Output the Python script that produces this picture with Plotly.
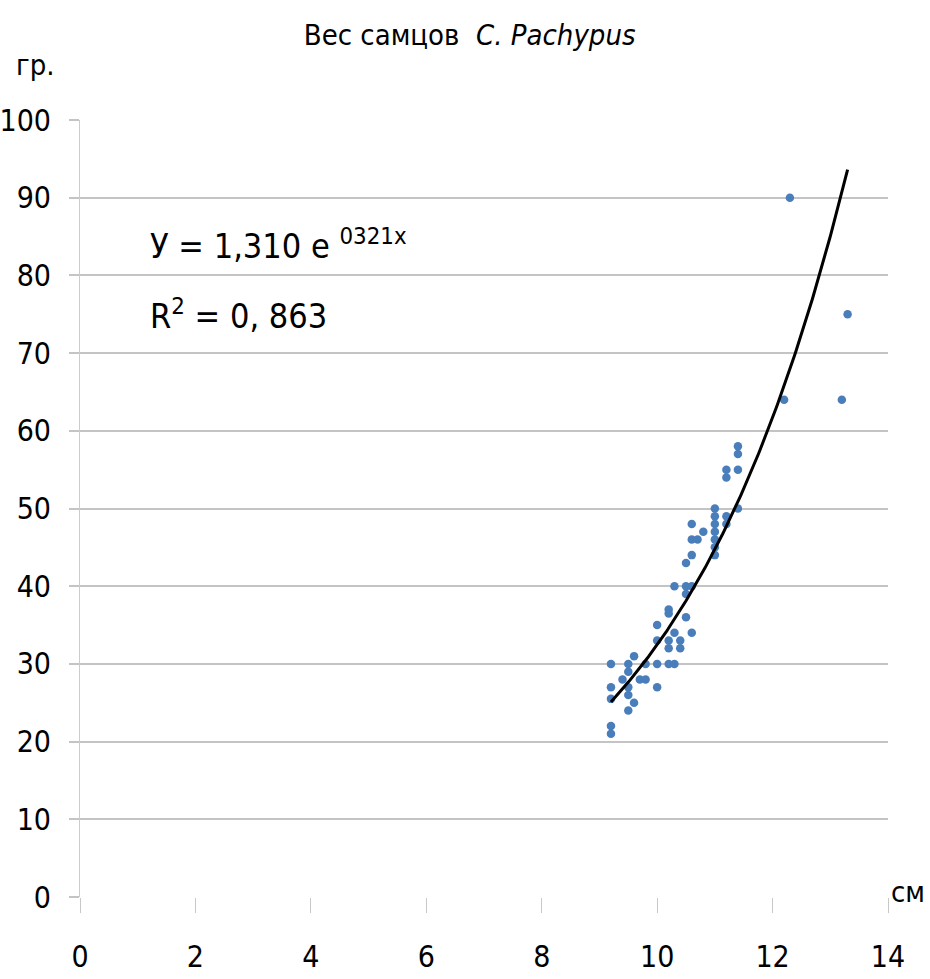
import numpy as np
import plotly.graph_objects as go

# Body length (cm) and weight (g) of males
length_cm = [
    9.2, 9.2, 9.2, 9.2, 9.2,
    9.4, 9.5, 9.5, 9.5, 9.5, 9.5, 9.6, 9.6, 9.7, 9.8, 9.8,
    10.0, 10.0, 10.0, 10.0,
    10.2, 10.2, 10.2, 10.2, 10.2, 10.3, 10.3, 10.3,
    10.4, 10.4, 10.5, 10.5, 10.5, 10.5, 10.6, 10.6, 10.6, 10.6, 10.6,
    10.7, 10.8,
    11.0, 11.0, 11.0, 11.0, 11.0, 11.0, 11.0,
    11.2, 11.2, 11.2, 11.2, 11.4, 11.4, 11.4, 11.4,
    12.2, 12.3, 13.2, 13.3,
]
weight_g = [
    30, 27, 22, 21, 25.5,
    28, 30, 29, 27, 26, 24, 31, 25, 28, 30, 28,
    35, 33, 27, 30,
    37, 33, 32, 30, 36.5, 40, 34, 30,
    33, 32, 43, 40, 39, 36, 48, 46, 44, 40, 34,
    46, 47,
    50, 49, 48, 47, 46, 45, 44,
    55, 54, 49, 48, 58, 57, 55, 50,
    64, 90, 64, 75,
]

# Exponential trend: y = a * e^(b x)
trend_a = 1.310
trend_b = 0.321
equation_text = "У = 1,310 e <sup>0321x</sup>"
r2_text = "R<sup>2</sup> = 0, 863"

title_text = "Вес самцов  <i>C. Pachypus</i>"
y_unit = "гр."
x_unit = "см"

x_ticks = [0, 2, 4, 6, 8, 10, 12, 14]
y_ticks = [0, 10, 20, 30, 40, 50, 60, 70, 80, 90, 100]

FONT = "DejaVu Sans Condensed, sans-serif"
GRID = "#c4c4c4"

trend_x = np.linspace(min(length_cm), max(length_cm), 200)
trend_y = trend_a * np.exp(trend_b * trend_x)

fig = go.Figure()
fig.add_trace(go.Scatter(
    x=length_cm, y=weight_g, mode="markers",
    marker=dict(color="#4a7ebb", size=8.5, line=dict(width=0)),
    showlegend=False,
))
fig.add_trace(go.Scatter(
    x=trend_x, y=trend_y, mode="lines",
    line=dict(color="black", width=3),
    showlegend=False,
))

fig.update_layout(
    width=930, height=979,
    margin=dict(l=80, r=42, t=120, b=82),
    paper_bgcolor="white", plot_bgcolor="white",
    font=dict(family=FONT, color="black", size=30),
    title=dict(text=title_text, x=0.505, xanchor="center",
               y=1 - 35 / 979, yanchor="middle",
               font=dict(family=FONT, size=29, color="black")),
    showlegend=False,
)

fig.update_xaxes(
    range=[0, 14], tickvals=x_ticks, ticktext=[str(v) for v in x_ticks],
    showgrid=False, zeroline=False,
    showline=False, automargin=False,
    ticks="outside", ticklen=15, tickwidth=1, tickcolor="#c8c8c8",
    ticklabelstandoff=18,
    tickfont=dict(family=FONT, size=30, color="black"),
)
fig.update_yaxes(
    range=[0, 100], tickvals=y_ticks, ticktext=[str(v) for v in y_ticks],
    showgrid=True, gridcolor=GRID, gridwidth=2,
    zeroline=False, automargin=False,
    showline=True, linecolor="#cccccc", linewidth=1,
    ticks="outside", ticklen=10, tickwidth=2, tickcolor=GRID,
    ticklabelstandoff=12,
    tickfont=dict(family=FONT, size=30, color="black"),
)

annotations = [
    dict(text=equation_text, x=1.18, y=84, xref="x", yref="y",
         xanchor="left", yanchor="middle", showarrow=False,
         font=dict(family=FONT, size=34, color="black")),
    dict(text=r2_text, x=1.18, y=75, xref="x", yref="y",
         xanchor="left", yanchor="middle", showarrow=False,
         font=dict(family=FONT, size=34, color="black")),
    dict(text=y_unit, x=35, y=65, xref="paper", yref="paper",
         showarrow=False, font=dict(family=FONT, size=29, color="black")),
    dict(text=x_unit, x=908, y=892, xref="paper", yref="paper",
         showarrow=False, font=dict(family=FONT, size=29, color="black")),
]
# convert pixel-placed labels to paper coordinates
pl, pw, pt, ph = 80, 930 - 80 - 42, 120, 979 - 120 - 82
for a in annotations[2:]:
    a["x"] = (a["x"] - pl) / pw
    a["y"] = (pt + ph - a["y"]) / ph
    a["xanchor"] = "center"
    a["yanchor"] = "middle"
fig.update_layout(annotations=annotations)

fig.write_html("out.html")
